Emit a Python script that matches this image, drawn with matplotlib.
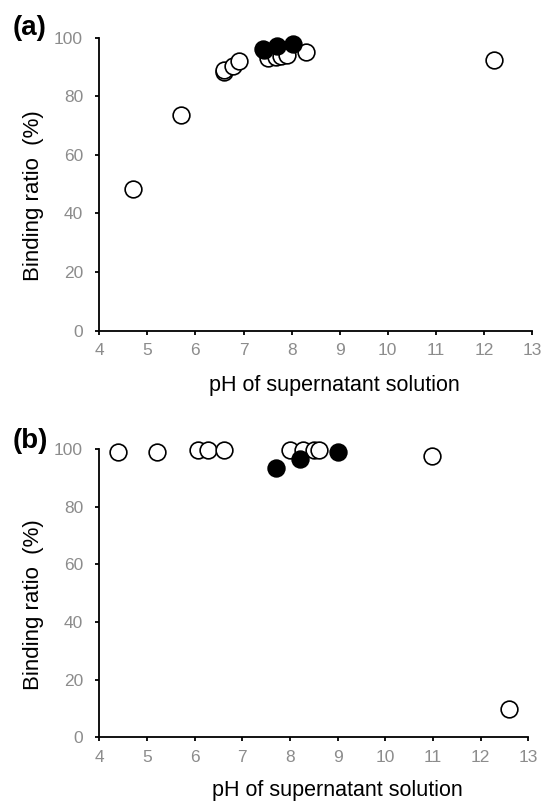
import matplotlib
matplotlib.use("Agg")
import matplotlib.pyplot as plt

plt.rcParams["font.family"] = ["Liberation Sans", "DejaVu Sans"]

# panel (a)
a_open_ph = [4.7, 5.7, 6.6, 6.6, 6.78, 6.9, 7.5, 7.67, 7.78, 7.91, 8.3, 12.2]
a_open_br = [48.2, 73.5, 88.3, 89.0, 90.3, 92.0, 92.9, 93.5, 93.7, 94.1, 95.0, 92.4]
a_fill_ph = [7.4, 7.42, 7.7, 8.02]
a_fill_br = [96.1, 95.8, 97.1, 97.7]

# panel (b)
b_open_ph = [4.4, 5.2, 6.08, 6.28, 6.61, 7.99, 8.27, 8.5, 8.6, 10.98, 12.59]
b_open_br = [99.0, 99.2, 99.7, 99.7, 99.8, 99.8, 99.8, 99.8, 99.8, 97.7, 9.8]
b_fill_ph = [7.7, 8.21, 9.01]
b_fill_br = [93.4, 96.7, 99.2]

xticks = list(range(4, 14))
yticks = list(range(0, 101, 20))

GRAY = "#8c8c8c"

fig = plt.figure(figsize=(5.44, 8.02), dpi=100)
ax_a = fig.add_axes([0.1825, 0.5877, 0.7954, 0.3653])
ax_b = fig.add_axes([0.1825, 0.0807, 0.7890, 0.3591])

# axes, tag, tag y (fig frac), xlabel pos, ylabel x (axes frac), data
panels = [
    (ax_a, "(a)", 1 - 28 / 802, (0.544, -0.205), -0.1396,
     a_open_ph, a_open_br, a_fill_ph, a_fill_br),
    (ax_b, "(b)", 1 - 440.5 / 802, (0.555, -0.204), -0.1407,
     b_open_ph, b_open_br, b_fill_ph, b_fill_br),
]

for ax, tag, tag_y, xl_pos, yl_x, ox, oy, fx, fy in panels:
    ax.scatter(ox, oy, s=145, facecolor="white", edgecolor="black",
               linewidths=1.2, clip_on=False, zorder=3)
    ax.scatter(fx, fy, s=145, facecolor="black", edgecolor="black",
               linewidths=1.2, clip_on=False, zorder=4)
    ax.set_xlim(4, 13)
    ax.set_ylim(0, 100)
    ax.set_xticks(xticks)
    ax.set_yticks(yticks)
    for s in ("top", "right"):
        ax.spines[s].set_visible(False)
    for s in ("left", "bottom"):
        ax.spines[s].set_linewidth(1.3)
    ax.tick_params(direction="out", length=3.2, width=1.3, colors="black",
                   labelcolor=GRAY, labelsize=12.5)
    ax.tick_params(axis="y", pad=8.5)
    ax.tick_params(axis="x", pad=6)
    ax.set_xlabel("pH of supernatant solution", fontsize=15.5, va="baseline")
    ax.set_ylabel("Binding ratio  (%)", fontsize=16, va="baseline")
    ax.xaxis.set_label_coords(*xl_pos)
    ax.yaxis.set_label_coords(yl_x, 0.46)
    fig.text(13 / 544, tag_y, tag, fontsize=20, fontweight="bold",
             ha="left", va="center")

fig.savefig("out.png", dpi=100)
